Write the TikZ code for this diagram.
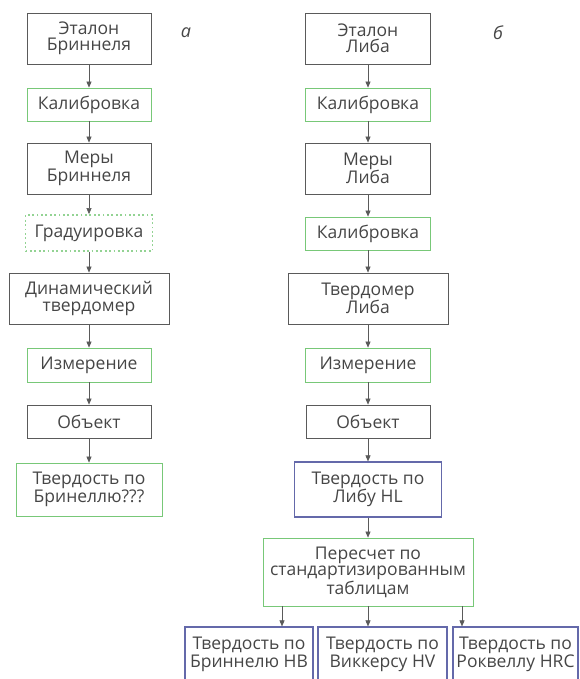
\documentclass[tikz,border=0pt]{standalone}
\usepackage{fontspec}
\setmainfont{Open Sans}
\usepackage{tikz}
\usetikzlibrary{positioning, arrows.meta}
\definecolor{boxGrey}{RGB}{90, 90, 90}
\definecolor{boxGreen}{RGB}{120, 200, 120}
\definecolor{boxBlue}{RGB}{100, 105, 170}
\definecolor{textGrey}{RGB}{70, 70, 70}

\begin{document}
\begin{tikzpicture}[
    x=1pt, y=-1pt,
    nodebox/.style={rectangle, draw=boxGrey, line width=0.8pt, minimum width=124pt,
                    minimum height=33pt, inner sep=0pt, align=center, text=textGrey,
                    font=\fontsize{17.5}{16.5}\selectfont},
    greenbox/.style={nodebox, draw=boxGreen},
    bluebox/.style={nodebox, draw=boxBlue, line width=1.2pt},
    arrow/.style={-{Triangle[length=6pt, width=5pt]}, line width=0.6pt, draw=boxGrey},
  ]
    \useasboundingbox (0,0) rectangle (579,679);

    % left column
    \node[nodebox, minimum height=51pt] (E1) at (89,38.5) {Эталон\\Бриннеля};
    \node[greenbox] (K1) at (89,104.5) {Калибровка};
    \node[nodebox, minimum height=51pt] (M1) at (89,168.5) {Меры\\Бриннеля};
    \node[greenbox, draw=boxGreen!80, line width=1.8pt, dash pattern=on 1.8pt off 2.6pt,
          minimum width=127pt, minimum height=36pt] (G1) at (89,233) {Градуировка};
    \node[nodebox, minimum width=160pt, minimum height=51pt] (D1) at (89,298.5)
         {Динамический\\твердомер};
    \node[greenbox, minimum height=34pt] (I1) at (89,365) {Измерение};
    \node[nodebox] (O1) at (89,421.5) {Объект};
    \node[greenbox, minimum width=146pt, minimum height=53pt] (T1) at (89,489.5)
         {Твердость по\\Бринеллю???};
    \node[font=\fontsize{18}{18}\selectfont\itshape, text=textGrey] (La) at (186,33) {а};

    \draw[arrow] (E1) -- (K1);
    \draw[arrow] (K1) -- (M1);
    \draw[arrow] (M1) -- (G1);
    \draw[arrow] (G1) -- (D1);
    \draw[arrow] (D1) -- (I1);
    \draw[arrow] (I1) -- (O1);
    \draw[arrow] (O1) -- (T1);

    % right column
    \node[nodebox, minimum width=125pt, minimum height=51pt] (E2) at (368,38.5) {Эталон\\Либа};
    \node[greenbox, minimum width=125pt] (K2) at (368,104.5) {Калибровка};
    \node[nodebox, minimum width=125pt, minimum height=51pt] (M2) at (368,168.5) {Меры\\Либа};
    \node[greenbox, minimum width=125pt] (K3) at (368,233.5) {Калибровка};
    \node[nodebox, minimum width=160pt, minimum height=51pt] (TL) at (368,298.5)
         {Твердомер\\Либа};
    \node[greenbox, minimum width=125pt, minimum height=34pt] (I2) at (368,365) {Измерение};
    \node[nodebox] (O2) at (368,421.5) {Объект};
    \node[bluebox, minimum width=147pt, minimum height=55pt] (HL) at (368,489.5)
         {Твердость по\\Либу HL};
    \node[greenbox, minimum width=210pt, minimum height=68pt] (P) at (368,572)
         {Пересчет по\\стандартизированным\\таблицам};
    \node[font=\fontsize{18}{18}\selectfont\itshape, text=textGrey] (Lb) at (498,33) {б};

    \node[bluebox, minimum width=128pt, minimum height=54pt] (HB) at (249,654)
         {Твердость по\\Бриннелю HB};
    \node[bluebox, minimum width=129pt, minimum height=54pt] (HV) at (382.5,654)
         {Твердость по\\Виккерсу HV};
    \node[bluebox, minimum width=125pt, minimum height=54pt] (HRC) at (515.5,654)
         {Твердость по\\Роквеллу HRC};

    \draw[arrow] (E2) -- (K2);
    \draw[arrow] (K2) -- (M2);
    \draw[arrow] (M2) -- (K3);
    \draw[arrow] (K3) -- (TL);
    \draw[arrow] (TL) -- (I2);
    \draw[arrow] (I2) -- (O2);
    \draw[arrow] (O2) -- (HL);
    \draw[arrow] (HL) -- (P);
    \draw[arrow] ([xshift=-86pt]P.south) -- ([xshift=-86pt]P.south |- HB.north);
    \draw[arrow] (P.south) -- (P.south |- HV.north);
    \draw[arrow] ([xshift=94pt]P.south) -- ([xshift=94pt]P.south |- HRC.north);
  \end{tikzpicture}
\end{document}
